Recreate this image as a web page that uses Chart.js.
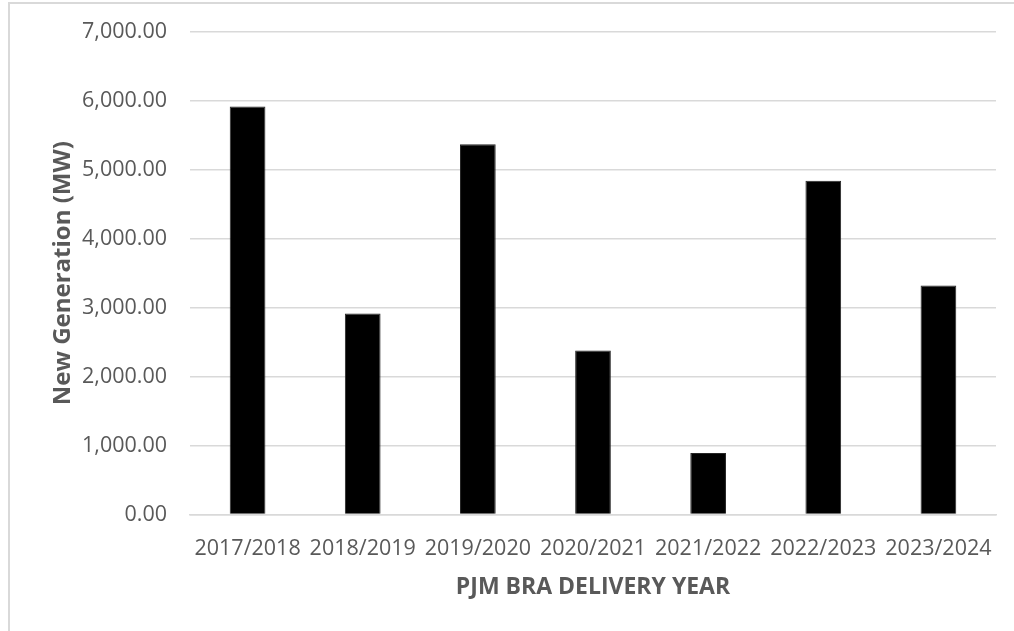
<!DOCTYPE html>
<html>
<head>
<meta charset="utf-8">
<script src="https://cdn.jsdelivr.net/npm/chart.js@4"></script>
<style>
  html, body { margin: 0; padding: 0; background: #fff; overflow: hidden; }
  #frame { position: absolute; left: 8px; top: 2px; width: 1100px; height: 700px; border-left: 2px solid #d9d9d9; border-top: 2px solid #d9d9d9; }
  #wrap { position: absolute; left: 0; top: 0; width: 1014px; height: 631px; }
</style>
</head>
<body>
<div id="frame"></div>
<div id="wrap"><canvas id="genChart"></canvas></div>
<script>
const years = ['2017/2018', '2018/2019', '2019/2020', '2020/2021', '2021/2022', '2022/2023', '2023/2024'];
const newGenMW = [5920, 2916, 5370, 2380, 891, 4843, 3322];
const yTicks = [0, 1000, 2000, 3000, 4000, 5000, 6000, 7000];

const textColor = '#595959';
const gridColor = '#d9d9d9';
const fontFamily = '"Open Sans", sans-serif';

const ctx = document.getElementById('genChart').getContext('2d');
new Chart(ctx, {
  type: 'bar',
  data: {
    labels: years,
    datasets: [{
      label: 'New Generation (MW)',
      data: newGenMW,
      backgroundColor: '#000000',
      borderColor: '#262626',
      borderWidth: 1,
      barPercentage: 1,
      categoryPercentage: 0.31
    }]
  },
  options: {
    responsive: true,
    maintainAspectRatio: false,
    animation: false,
    layout: { padding: { top: 32, right: 18, left: 0, bottom: 0 } },
    plugins: { legend: { display: false }, tooltip: { enabled: false } },
    scales: {
      x: {
        grid: { display: false, drawTicks: false },
        border: { display: true, color: gridColor, width: 1.5 },
        ticks: { color: textColor, font: { family: fontFamily, size: 21.5 }, padding: 21, maxRotation: 0, autoSkip: false },
        title: {
          display: true,
          text: 'PJM BRA DELIVERY YEAR',
          color: textColor,
          font: { family: fontFamily, size: 23, weight: 'bold' },
          padding: { top: 0, bottom: 30 }
        },
        afterFit: scale => { scale.height = 116.5; }
      },
      y: {
        min: 0,
        max: 7000,
        afterBuildTicks: scale => { scale.ticks = yTicks.map(v => ({ value: v })); },
        grid: { color: gridColor, lineWidth: 1.5, drawTicks: false },
        border: { display: false },
        ticks: {
          color: textColor,
          font: { family: fontFamily, size: 21.5 },
          padding: 23,
          callback: v => v.toLocaleString('en-US', { minimumFractionDigits: 2, maximumFractionDigits: 2 })
        },
        title: {
          display: true,
          text: 'New Generation (MW)',
          color: textColor,
          font: { family: fontFamily, size: 24, weight: 'bold' },
          padding: { top: 49, bottom: 0 }
        },
        afterFit: scale => {
          scale.width = 190;
          // tick padding would otherwise push the plot top down
          scale.paddingTop = 0;
          scale.paddingBottom = 0;
        }
      }
    }
  }
});
</script>
</body>
</html>
